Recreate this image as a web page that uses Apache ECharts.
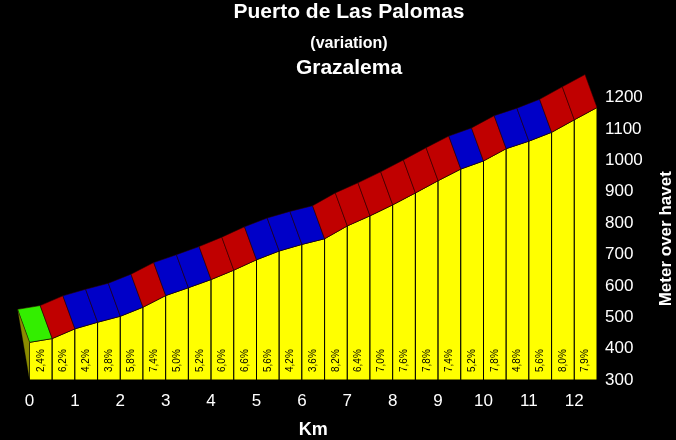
<!DOCTYPE html>
<html>
<head>
<meta charset="utf-8">
<script src="https://cdn.jsdelivr.net/npm/echarts@6/dist/echarts.min.js"></script>
<style>
html,body{margin:0;padding:0;background:#000;}
#chart{width:676px;height:440px;}
</style>
</head>
<body>
<div id="chart"></div>
<script>
// Distance (km) at each profile point
const distances = [0,0.5,1,1.5,2,2.5,3,3.5,4,4.5,5,5.5,6,6.5,7,7.5,8,8.5,9,9.5,10,10.5,11,11.5,12,12.5];
// Elevation (m) at each profile point
const elevations = [420,432,463,484,503,532,569,594,620,650,683,711,732,750,791,823,858,896,935,972,998,1037,1061,1089,1129,1168];
// Gradient (%) of each 0.5 km segment
const gradients = [2.4,6.2,4.2,3.8,5.8,7.4,5.0,5.2,6.0,6.6,5.6,4.2,3.6,8.2,6.4,7.0,7.6,7.8,7.4,5.2,7.8,4.8,5.6,8.0,7.9];
const titleLines = ['Puerto de Las Palomas', '(variation)', 'Grazalema'];
const baseElevation = 300;

const FONT = "'Liberation Sans', Arial, sans-serif";
const DX = -12, DY = -33; // 3D band offset in pixels

function bandColor(g) {
  if (g < 3) return '#33ee00';
  if (g < 6) return '#0000c8';
  return '#c00000';
}

const segData = gradients.map((g, i) => [distances[i], distances[i+1], elevations[i], elevations[i+1], g]);

const chart = echarts.init(document.getElementById('chart'));
chart.setOption({
  backgroundColor: '#000',
  animation: false,
  title: [
    {text: titleLines[0], left: 349, textAlign: 'center', top: 2, padding: 0,
     textStyle: {color: '#fff', fontSize: 21, fontWeight: 'bold', fontFamily: FONT}},
    {text: titleLines[1], left: 349, textAlign: 'center', top: 36, padding: 0,
     textStyle: {color: '#fff', fontSize: 16, fontWeight: 'bold', fontFamily: FONT}},
    {text: titleLines[2], left: 349, textAlign: 'center', top: 58, padding: 0,
     textStyle: {color: '#fff', fontSize: 21, fontWeight: 'bold', fontFamily: FONT}}
  ],
  grid: {left: 29.5, right: 79, top: 97.5, bottom: 60, outerBoundsMode: 'none', containLabel: false},
  xAxis: {
    type: 'value', min: 0, max: 12.5, interval: 1,
    name: 'Km', nameLocation: 'middle', nameGap: 41,
    nameTextStyle: {color: '#fff', fontSize: 18, fontWeight: 'bold', fontFamily: FONT},
    axisLine: {show: false}, axisTick: {show: false}, splitLine: {show: false},
    axisLabel: {color: '#fff', fontSize: 17, fontFamily: FONT, margin: 13, showMaxLabel: false,
                formatter: v => String(v)}
  },
  yAxis: {
    type: 'value', position: 'right', min: 300, max: 1200, interval: 100,
    name: 'Meter over havet', nameLocation: 'middle', nameGap: 61,
    nameTextStyle: {color: '#fff', fontSize: 17, fontWeight: 'bold', fontFamily: FONT},
    axisLine: {show: false}, axisTick: {show: false}, splitLine: {show: false},
    axisLabel: {color: '#fff', fontSize: 17, fontFamily: FONT, margin: 8,
                formatter: v => String(v)}
  },
  series: [{
    type: 'custom',
    clip: false,
    data: segData,
    renderItem: function (params, api) {
      const x0 = api.value(0), x1 = api.value(1), e0 = api.value(2), e1 = api.value(3), g = api.value(4);
      const p0 = api.coord([x0, e0]);
      const p1 = api.coord([x1, e1]);
      const b0 = api.coord([x0, baseElevation]);
      const b1 = api.coord([x1, baseElevation]);
      const children = [];
      children.push({
        type: 'polygon',
        shape: {points: [b0, p0, p1, b1]},
        style: {fill: '#ffff00', stroke: '#000', lineWidth: 1}
      });
      children.push({
        type: 'polygon',
        shape: {points: [p0, p1, [p1[0]+DX, p1[1]+DY], [p0[0]+DX, p0[1]+DY]]},
        style: {fill: bandColor(g), stroke: 'rgba(40,0,0,0.7)', lineWidth: 0.8}
      });
      if (params.dataIndex === 0) {
        children.push({
          type: 'polygon',
          shape: {points: [[p0[0]+DX, p0[1]+DY], p0, b0]},
          style: {fill: '#8b8b00', stroke: 'rgba(0,0,0,0.5)', lineWidth: 0.6}
        });
      }
      children.push({
        type: 'text',
        x: (b0[0] + b1[0]) / 2,
        y: b0[1] - 8,
        rotation: Math.PI / 2,
        style: {
          text: g.toFixed(1).replace('.', ',') + '%',
          fill: '#000', fontSize: 10, fontFamily: FONT,
          align: 'left', verticalAlign: 'middle'
        }
      });
      return {type: 'group', children: children};
    }
  }]
});
</script>
</body>
</html>
